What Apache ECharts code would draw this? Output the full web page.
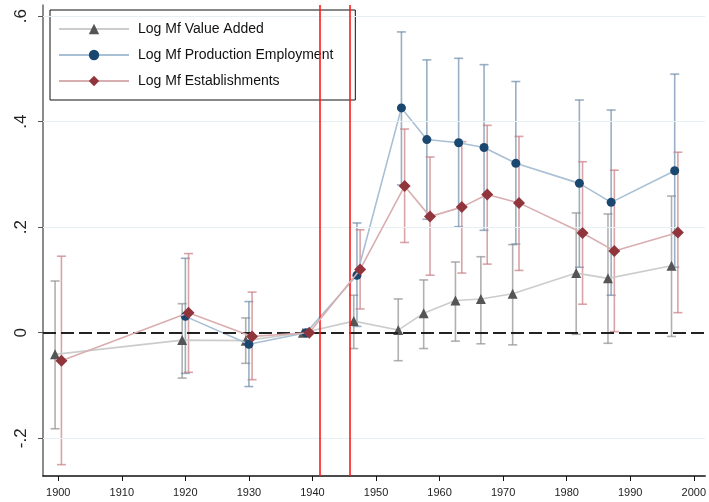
<!DOCTYPE html>
<html>
<head>
<meta charset="utf-8">
<script src="https://cdn.jsdelivr.net/npm/echarts@6/dist/echarts.min.js"></script>
<style>
html, body { margin: 0; padding: 0; background: #fff; }
#chart { width: 709px; height: 502px; }
</style>
</head>
<body>
<div id="chart"></div>
<script>
// census years (plot positions)
var years = [1900, 1920, 1930, 1939, 1947, 1954, 1958, 1963, 1967, 1972, 1982, 1987, 1997];

// Log Mf Value Added
var vaMid = [-0.041, -0.014, -0.015, 0, 0.022, 0.005, 0.037, 0.061, 0.064, 0.074, 0.113, 0.103, 0.127];
var vaLo  = [-0.182, -0.086, -0.058, 0, -0.030, -0.053, -0.030, -0.016, -0.021, -0.023, -0.003, -0.020, -0.007];
var vaHi  = [0.098, 0.055, 0.028, 0, 0.071, 0.064, 0.100, 0.134, 0.144, 0.167, 0.227, 0.225, 0.259];

// Log Mf Production Employment
var empMid = [null, 0.031, -0.022, 0, 0.109, 0.426, 0.366, 0.360, 0.351, 0.321, 0.283, 0.247, 0.307];
var empLo  = [null, -0.077, -0.102, 0, 0.012, 0.280, 0.215, 0.201, 0.194, 0.168, 0.124, 0.071, 0.124];
var empHi  = [null, 0.141, 0.059, 0, 0.208, 0.570, 0.517, 0.520, 0.508, 0.476, 0.441, 0.422, 0.490];

// Log Mf Establishments
var estMid = [-0.053, 0.038, -0.007, 0, 0.120, 0.278, 0.220, 0.238, 0.262, 0.246, 0.189, 0.155, 0.190];
var estLo  = [-0.250, -0.075, -0.089, 0, 0.045, 0.171, 0.109, 0.113, 0.130, 0.118, 0.054, 0.002, 0.038];
var estHi  = [0.145, 0.150, 0.077, 0, 0.195, 0.386, 0.333, 0.362, 0.393, 0.372, 0.324, 0.308, 0.342];

var xTicks = [1900, 1910, 1920, 1930, 1940, 1950, 1960, 1970, 1980, 1990, 2000];
var yTicks = [-0.2, 0, 0.2, 0.4, 0.6];
var eventYears = [1941.1, 1945.8];

var seriesNames = ['Log Mf Value Added', 'Log Mf Production Employment', 'Log Mf Establishments'];

function pts(mid, shift) {
    var out = [];
    for (var i = 0; i < years.length; i++) {
        if (mid[i] !== null) out.push([years[i] + shift, mid[i]]);
    }
    return out;
}
function bars(lo, hi, shift) {
    var out = [];
    for (var i = 0; i < years.length; i++) {
        if (lo[i] !== null && lo[i] !== hi[i]) out.push([years[i] + shift, lo[i], hi[i]]);
    }
    return out;
}
function capSeries(data, color) {
    return {
        type: 'custom',
        silent: true,
        z: 1,
        data: data,
        renderItem: function (params, api) {
            var lo = api.coord([api.value(0), api.value(1)]);
            var hi = api.coord([api.value(0), api.value(2)]);
            var w = 4.5;
            var st = { stroke: color, lineWidth: 1.6 };
            return {
                type: 'group',
                children: [
                    { type: 'line', shape: { x1: lo[0], y1: lo[1], x2: hi[0], y2: hi[1] }, style: st },
                    { type: 'line', shape: { x1: lo[0] - w, y1: lo[1], x2: lo[0] + w, y2: lo[1] }, style: st },
                    { type: 'line', shape: { x1: hi[0] - w, y1: hi[1], x2: hi[0] + w, y2: hi[1] }, style: st }
                ]
            };
        }
    };
}

var myChart = echarts.init(document.getElementById('chart'));

var gridLines = [];
yTicks.forEach(function (v) { if (v !== 0) gridLines.push({ yAxis: v }); });

option = {
    animation: false,
    backgroundColor: '#fff',
    grid: { left: 43, right: 1, top: 5, bottom: 26, containLabel: false },
    legend: {
        orient: 'vertical',
        left: 50,
        top: 10,
        width: 300,
        padding: [12, 22, 12, 8],
        itemGap: 12,
        itemWidth: 70,
        itemHeight: 13,
        backgroundColor: '#fff',
        borderColor: '#111',
        borderWidth: 1,
        textStyle: { fontFamily: 'Liberation Sans, Arial, sans-serif', fontSize: 14, color: '#111', padding: [0, 0, 0, 4] },
        data: seriesNames
    },
    xAxis: {
        type: 'value',
        min: 1897.6,
        max: 2001.8,
        axisLine: { show: true, onZero: false, lineStyle: { color: '#111', width: 1.5 } },
        axisTick: { show: true, length: 5, customValues: xTicks, lineStyle: { color: '#111' } },
        axisLabel: {
            customValues: xTicks,
            fontFamily: 'Liberation Sans, Arial, sans-serif',
            fontSize: 11,
            color: '#222',
            margin: 11,
            formatter: function (v) { return String(Math.round(v)); }
        },
        splitLine: { show: false }
    },
    yAxis: {
        type: 'value',
        min: -0.2715,
        max: 0.621,
        axisLine: { show: true, onZero: false, lineStyle: { color: '#666', width: 1.5 } },
        axisTick: { show: true, length: 5, customValues: yTicks, lineStyle: { color: '#555' } },
        axisLabel: {
            customValues: yTicks,
            rotate: 90,
            fontFamily: 'Liberation Sans, Arial, sans-serif',
            fontSize: 17,
            color: '#222',
            margin: 13,
            formatter: function (v) {
                if (Math.abs(v) < 1e-9) return '0';
                return v.toFixed(1).replace('0.', '.');
            }
        },
        splitLine: { show: false }
    },
    series: [
        {
            type: 'line',
            silent: true,
            data: [],
            z: 0,
            markLine: {
                silent: true,
                symbol: 'none',
                label: { show: false },
                lineStyle: { color: '#e6eff2', width: 1.2, type: 'solid' },
                data: gridLines
            }
        },
        capSeries(bars(vaLo, vaHi, -0.5), 'rgba(150,150,150,0.75)'),
        capSeries(bars(empLo, empHi, 0), 'rgba(100,132,165,0.65)'),
        capSeries(bars(estLo, estHi, 0.5), 'rgba(200,125,130,0.7)'),
        {
            type: 'line',
            silent: true,
            data: [],
            z: 2,
            markLine: {
                silent: true,
                symbol: 'none',
                label: { show: false },
                data: [
                    { yAxis: 0, lineStyle: { color: '#222', width: 2, type: [13, 5] } },
                    { xAxis: eventYears[0], lineStyle: { color: '#ff1a1a', width: 1.6, type: 'solid' } },
                    { xAxis: eventYears[1], lineStyle: { color: '#ff1a1a', width: 1.6, type: 'solid' } }
                ]
            }
        },
        {
            name: seriesNames[0],
            type: 'line',
            z: 3,
            data: pts(vaMid, -0.5),
            symbol: 'triangle',
            symbolSize: 10,
            itemStyle: { color: '#555555' },
            lineStyle: { color: '#cccccc', width: 1.6 }
        },
        {
            name: seriesNames[1],
            type: 'line',
            z: 4,
            data: pts(empMid, 0),
            symbol: 'circle',
            symbolSize: 9,
            itemStyle: { color: '#1a476f' },
            lineStyle: { color: '#a9bfd3', width: 1.6 }
        },
        {
            name: seriesNames[2],
            type: 'line',
            z: 5,
            data: pts(estMid, 0.5),
            symbol: 'diamond',
            symbolSize: 12,
            itemStyle: { color: '#90353b' },
            lineStyle: { color: '#d9aeb0', width: 1.6 }
        }
    ]
};

myChart.setOption(option);
</script>
</body>
</html>
